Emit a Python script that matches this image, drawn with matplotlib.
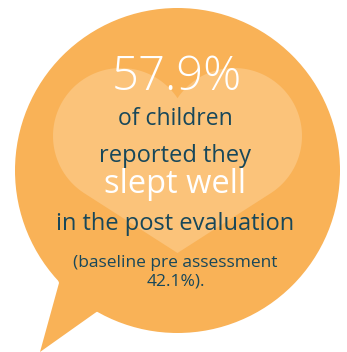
import numpy as np
import matplotlib
matplotlib.use("Agg")
import matplotlib.pyplot as plt
from matplotlib.patches import Circle, Polygon

# ---- data ----
post_value = 57.9
baseline_value = 42.1
subject_lines = ["of children", "reported they"]
highlight = "slept well"
context_line = "in the post evaluation"
baseline_lines = ["(baseline pre assessment", f"{baseline_value}%)."]

# ---- style ----
ORANGE = "#F9B257"
HEART = "#FBC37A"
DARK = "#17475A"
WHITE = "#FFFFFF"
FONT = ["Open Sans", "DejaVu Sans"]

W, H = 347, 352
fig = plt.figure(figsize=(W / 100, H / 100), dpi=100)
ax = fig.add_axes([0, 0, 1, 1])
ax.set_xlim(0, W)
ax.set_ylim(H, 0)
ax.axis("off")

# speech bubble
cx, cy, R = 177.5, 170.5, 162.5
ax.add_patch(Circle((cx, cy), R, facecolor=ORANGE, edgecolor="none"))
ax.add_patch(Polygon([(56, 270), (59, 283), (40, 352), (95, 313), (115, 300), (110, 280)],
                     closed=True, facecolor=ORANGE, edgecolor="none"))

# heart: two lobes + tangent lines to the tip
r = 68.0
lc = np.array([121.0, 136.0])
rc = np.array([234.0, 136.0])
tip = np.array([177.5, 253.0])

def tangent_angle(c, side):
    d = tip - c
    dist = np.hypot(*d)
    ang = np.arctan2(d[1], d[0])
    off = np.arccos(r / dist)
    return ang + side * off

dx = (rc[0] - lc[0]) / 2
dy = np.sqrt(r ** 2 - dx ** 2)
dip = np.array([(lc[0] + rc[0]) / 2, lc[1] - dy])
a1 = np.arctan2(dip[1] - lc[1], dip[0] - lc[0])
a2 = tangent_angle(lc, +1)
while a2 > a1:
    a2 -= 2 * np.pi
ts = np.linspace(a1, a2, 120)
left_arc = np.c_[lc[0] + r * np.cos(ts), lc[1] + r * np.sin(ts)]
b1 = tangent_angle(rc, -1)
b2 = np.arctan2(dip[1] - rc[1], dip[0] - rc[0])
while b2 > b1:
    b2 -= 2 * np.pi
ts2 = np.linspace(b1, b2, 120)
right_arc = np.c_[rc[0] + r * np.cos(ts2), rc[1] + r * np.sin(ts2)]
heart = np.vstack([left_arc, tip[None, :], right_arc])
ax.add_patch(Polygon(heart, closed=True, facecolor=HEART, edgecolor="none"))

# ---- text ----
ax.text(176.5, 90, f"{post_value}%", color=WHITE, fontsize=34, fontweight="light",
        family=FONT, ha="center", va="baseline")
ax.text(175.5, 125, subject_lines[0], color=DARK, fontsize=16.5, family=FONT,
        ha="center", va="baseline")
ax.text(175.5, 162, subject_lines[1], color=DARK, fontsize=17, family=FONT,
        ha="center", va="baseline")
ax.text(175.5, 193, highlight, color=WHITE, fontsize=23.5, family=FONT,
        ha="center", va="baseline")
ax.text(175.5, 230, context_line, color=DARK, fontsize=17, family=FONT,
        ha="center", va="baseline")
ax.text(175.5, 267, baseline_lines[0], color=DARK, fontsize=12.5, family=FONT,
        ha="center", va="baseline")
ax.text(175.5, 286, baseline_lines[1], color=DARK, fontsize=12.5, family=FONT,
        ha="center", va="baseline")

fig.savefig("out.png", dpi=100, facecolor="white")
